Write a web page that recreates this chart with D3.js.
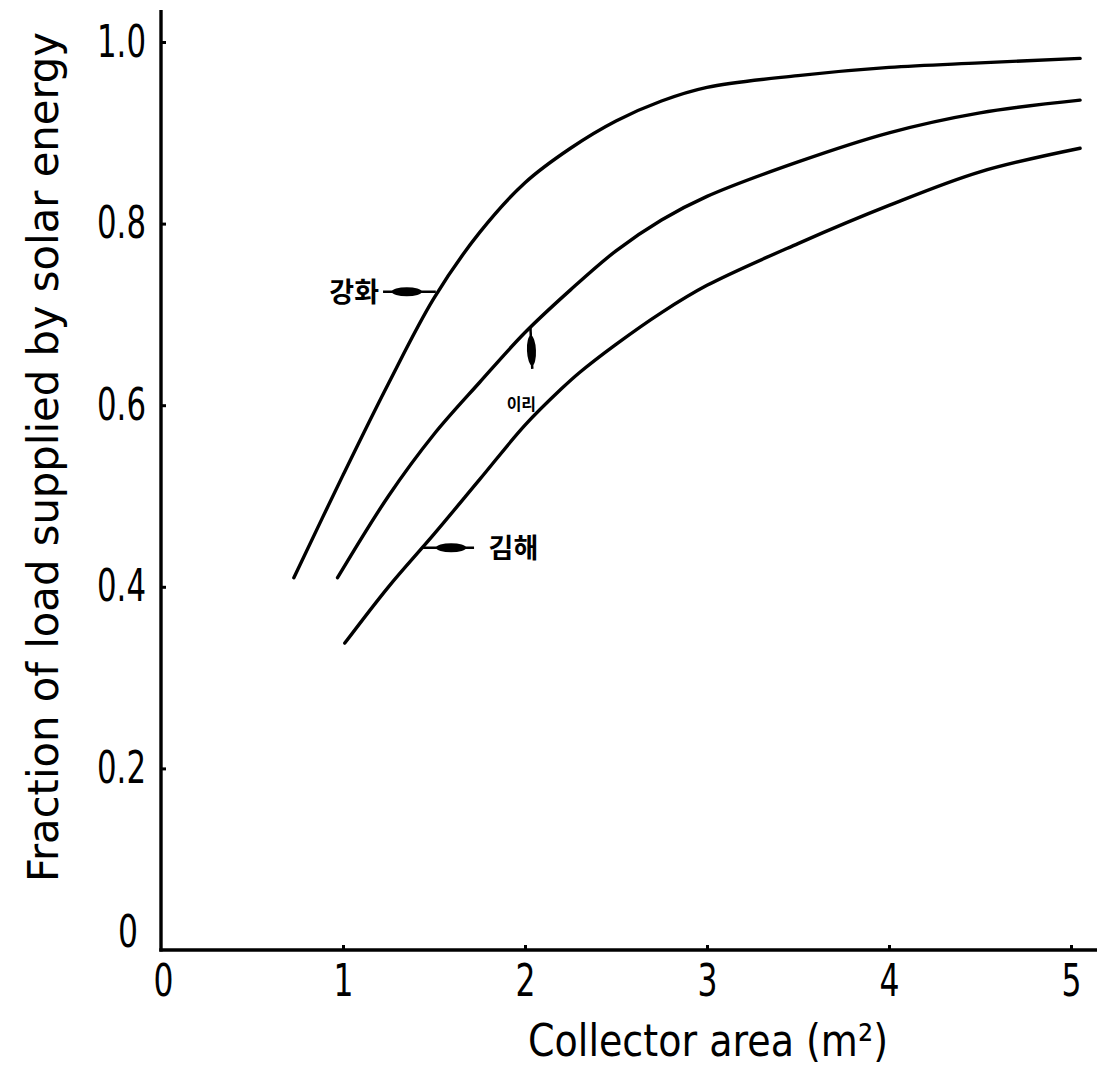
<!DOCTYPE html>
<html>
<head>
<meta charset="utf-8">
<script src="https://cdn.jsdelivr.net/npm/d3@7"></script>
<style>
  html, body { margin: 0; padding: 0; background: #fff; }
  svg { display: block; }
  .lbl { font-family: "DejaVu Sans", sans-serif; fill: #000; }
  .kr { font-family: "Noto Sans CJK KR", sans-serif; font-weight: 700; fill: #000; }
</style>
</head>
<body>
<script>
// ---- data ----
const xTicks = [0, 1, 2, 3, 4, 5];
const yTicks = [0, 0.2, 0.4, 0.6, 0.8, 1.0];
const yTickLabels = ["0", "0.2", "0.4", "0.6", "0.8", "1.0"];

const ganghwaX = [0.73, 1.0, 1.25, 1.5, 1.75, 2.0, 2.25, 2.5, 2.75, 3.0, 3.5, 4.0, 4.5, 5.05];
const ganghwaY = [0.41, 0.523, 0.624, 0.718, 0.79, 0.845, 0.883, 0.913, 0.935, 0.95, 0.963, 0.972, 0.977, 0.982];

const iriX = [0.97, 1.25, 1.5, 1.75, 2.0, 2.25, 2.5, 2.75, 3.0, 3.5, 4.0, 4.5, 5.05];
const iriY = [0.41, 0.50, 0.568, 0.625, 0.68, 0.727, 0.77, 0.804, 0.83, 0.868, 0.90, 0.922, 0.936];

const gimhaeX = [1.01, 1.25, 1.5, 1.75, 2.0, 2.2, 2.3, 2.5, 2.75, 3.0, 3.5, 4.0, 4.5, 5.05];
const gimhaeY = [0.338, 0.40, 0.458, 0.518, 0.578, 0.618, 0.636, 0.667, 0.702, 0.732, 0.778, 0.82, 0.857, 0.883];

const seriesNames = ["강화", "이리", "김해"];

// ---- layout ----
const W = 1097, H = 1067;
const x = d3.scaleLinear().domain([0, 5]).range([161, 1071]);
const y = d3.scaleLinear().domain([0, 1]).range([950, 42]);

const svg = d3.select("body").append("svg").attr("width", W).attr("height", H);

// axis lines
svg.append("line").attr("x1", 161).attr("x2", 161).attr("y1", 10).attr("y2", 951.5)
  .attr("stroke", "#000").attr("stroke-width", 3.4);
svg.append("line").attr("x1", 159.3).attr("x2", 1097).attr("y1", 950).attr("y2", 950)
  .attr("stroke", "#000").attr("stroke-width", 3.4);

const dotW = 9;
function labelWidth(s) {
  let w = 0;
  for (const c of s) w += (c === "." ? dotW : 20);
  return w;
}

// axes (ticks inward)
const xAxis = d3.axisBottom(x).tickValues(xTicks).tickSize(-5).tickPadding(15)
  .tickFormat(d3.format("d"));
const gx = svg.append("g").attr("transform", "translate(0,950)").call(xAxis);
gx.select(".domain").remove();
gx.selectAll(".tick line").attr("stroke", "#000").attr("stroke-width", 3);
gx.selectAll(".tick text").attr("class", "lbl").attr("font-size", 44).attr("dy", "0.71em")
  .attr("fill", "#000")
  .attr("textLength", d => labelWidth(String(d))).attr("lengthAdjust", "spacingAndGlyphs");

const yAxis = d3.axisLeft(y).tickValues(yTicks).tickSize(-5).tickPadding(15)
  .tickFormat((d, i) => yTickLabels[i]);
const gy = svg.append("g").attr("transform", "translate(161,0)").call(yAxis);
gy.select(".domain").remove();
gy.selectAll(".tick line").attr("stroke", "#000").attr("stroke-width", 3);
gy.selectAll(".tick text").attr("class", "lbl").attr("font-size", 44).attr("fill", "#000")
  .attr("textLength", (d, i) => labelWidth(yTickLabels[i])).attr("lengthAdjust", "spacingAndGlyphs");
gy.selectAll(".tick").filter(d => d === 0).select("text").attr("transform", "translate(-8,-18)");
gy.selectAll(".tick").filter(d => d === 0).select("line").remove();
gx.selectAll(".tick").filter(d => d === 0).select("line").remove();
gx.selectAll(".tick").filter(d => d === 0).select("text").attr("transform", "translate(2,0)");

// axis titles
svg.append("text").attr("class", "lbl")
  .attr("transform", "translate(58,457) rotate(-90)")
  .attr("text-anchor", "middle").attr("font-size", 43)
  .attr("textLength", 850).attr("lengthAdjust", "spacingAndGlyphs")
  .text("Fraction of load supplied by solar energy");

svg.append("text").attr("class", "lbl")
  .attr("x", 708).attr("y", 1056)
  .attr("text-anchor", "middle").attr("font-size", 45)
  .attr("textLength", 360).attr("lengthAdjust", "spacingAndGlyphs")
  .text("Collector area (m²)");

// curves
const line = d3.line().x(d => x(d[0])).y(d => y(d[1])).curve(d3.curveCatmullRom.alpha(0.5));
const series = [
  d3.zip(ganghwaX, ganghwaY),
  d3.zip(iriX, iriY),
  d3.zip(gimhaeX, gimhaeY)
];
svg.selectAll("path.curve").data(series).join("path")
  .attr("class", "curve")
  .attr("d", line)
  .attr("fill", "none").attr("stroke", "#000").attr("stroke-width", 3.4)
  .attr("stroke-linecap", "round");

// annotations (arrows pointing at curves)
function arrow(x1, y1, x2, y2) {
  const g = svg.append("g");
  g.append("line").attr("x1", x1).attr("y1", y1).attr("x2", x2).attr("y2", y2)
    .attr("stroke", "#000").attr("stroke-width", 2.5);
  const mx = x1 + (x2 - x1) * 0.45, my = y1 + (y2 - y1) * 0.45;
  const ang = Math.atan2(y2 - y1, x2 - x1) * 180 / Math.PI;
  g.append("ellipse").attr("cx", mx).attr("cy", my).attr("rx", 15).attr("ry", 4.5)
    .attr("transform", `rotate(${ang},${mx},${my})`).attr("fill", "#000");
}
// 강화
arrow(x(1.22), y(0.725), x(1.51), y(0.725));
svg.append("text").attr("class", "kr").attr("x", x(1.22) - 4).attr("y", y(0.725) + 10)
  .attr("text-anchor", "end").attr("font-size", 27).text(seriesNames[0]);
// 이리
arrow(x(2.04), y(0.64), x(2.03), y(0.685));
svg.append("text").attr("class", "kr").attr("x", x(1.98)).attr("y", y(0.595))
  .attr("text-anchor", "middle").attr("font-size", 16).text(seriesNames[1]);
// 김해
arrow(x(1.72), y(0.443), x(1.44), y(0.443));
svg.append("text").attr("class", "kr").attr("x", x(1.8)).attr("y", y(0.443) + 10)
  .attr("text-anchor", "start").attr("font-size", 27).text(seriesNames[2]);
</script>
</body>
</html>
